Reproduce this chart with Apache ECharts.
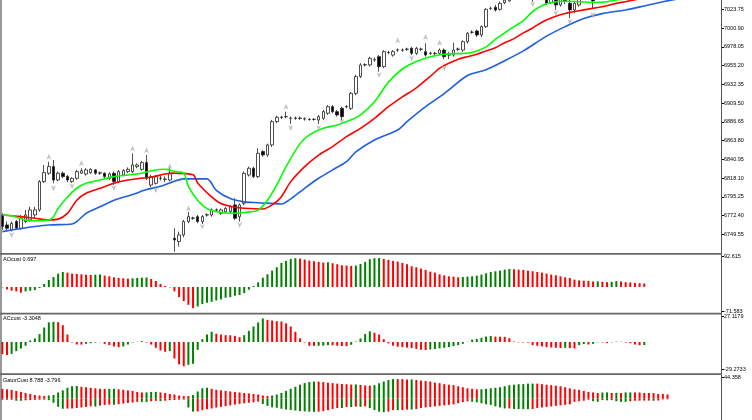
<!DOCTYPE html>
<html>
<head>
<meta charset="utf-8">
<title>Alligator + AO / AC / Gator</title>
<script src="https://cdn.jsdelivr.net/npm/echarts@6/dist/echarts.min.js"></script>
<style>html,body{margin:0;padding:0;background:#fff;}</style>
</head>
<body>
<div id="chart" style="width:752px;height:420px;"></div>
<script type="text/javascript">
// bar slots on the time axis (chart shift leaves empty room on the right)
var slotCount = 155;

// price scale of the main window
var priceMin = 6726.70, priceMax = 7035.08, priceStep = 22.85;

// candles: [open, high, low, close]
var ohlc = [
  [6773.1,6775.1,6754.8,6758.9],[6760.9,6765,6752.8,6756.8],[6754.8,6765,6753,6762.9],[6765,6767,6755,6756.8],
  [6756.8,6773,6755,6769],[6765,6779.2,6763,6773.1],[6767,6783.3,6765,6779.2],[6773.1,6783,6769,6779.2],
  [6779.2,6815.7,6777,6813.7],[6813.7,6834,6812,6824.7],[6823.9,6838,6822,6832],[6832,6840,6811.7,6815.7],
  [6815.7,6826,6814,6823.9],[6823.9,6826,6818,6819.8],[6820,6822,6813,6815.7],[6813.7,6819,6812,6817.7],
  [6817.7,6828,6816,6825.9],[6824,6830,6823,6827],[6823,6830,6821,6828],[6824.7,6830,6823,6828.7],
  [6827.9,6829,6822,6823.9],[6824,6826,6822,6824.5],[6823.9,6825,6818,6819.8],[6817.8,6825,6816,6823],
  [6823.9,6826,6809.6,6813.7],[6813.7,6828,6812,6825.9],[6821.8,6829,6820,6827.1],[6825.9,6831,6824,6828.7],
  [6825.9,6848.2,6824,6834],[6832,6836,6830,6834],[6828.7,6839,6827,6836.9],[6836.9,6846.2,6815.7,6817.8],
  [6809.6,6822,6807,6819.8],[6811.7,6822,6810,6819.8],[6817.7,6821,6815,6818],[6816.5,6820,6813,6816.8],
  [6815.7,6830,6814,6823.9],[6744.7,6756.8,6728.4,6742.6],[6740.6,6752.8,6734.5,6748.7],[6748.7,6767,6746,6765],
  [6765,6777,6763,6771],[6769,6771,6767,6769.5],[6771,6773,6763,6765],[6765,6773,6762,6771],
  [6773,6775,6771,6773.3],[6773,6781,6771,6779.2],[6779,6781,6777,6779.4],[6775.1,6781,6773,6779.2],
  [6777,6783,6775,6781],[6777.1,6785,6775,6783.3],[6785.3,6793.4,6767,6769],[6771,6787,6765,6785.3],
  [6787.3,6826,6785,6823.9],[6821.8,6832,6820,6830],[6830,6832,6818,6819.8],[6819.8,6854.3,6818,6848.2],
  [6850.3,6852,6844,6846.2],[6846.2,6860,6844,6858.4],[6858.4,6889,6856,6886.8],[6886.8,6894,6885,6892.1],
  [6892,6894,6890,6892.3],[6892.8,6899,6891,6893],[6891,6893,6884,6890.9],[6890.9,6893,6889,6891.2],
  [6891,6893,6889,6890.8],[6890,6892,6888,6890.3],[6889.6,6891,6888,6889.5],[6889.5,6891,6888,6889.7],
  [6888.8,6895,6884,6892.9],[6890.9,6901,6889,6899],[6897,6907,6895,6905.1],[6905.1,6907,6897,6899],
  [6899,6901,6893,6895],[6903,6905,6888.9,6892.9],[6905,6907,6903,6905.2],[6903,6923,6901,6921.3],
  [6921.3,6944,6919,6941.7],[6941.7,6958,6940,6955.9],[6955.9,6958,6954,6956.2],[6955.9,6966,6954,6964],
  [6962,6965,6960,6962.3],[6966,6968,6947.7,6953.8],[6953.8,6974,6952,6972.1],[6971,6973,6969,6971.2],
  [6968,6974,6966,6972.1],[6974.1,6976,6972,6974.3],[6974.1,6976,6972,6974],[6975,6977,6973,6975.2],
  [6976.2,6978,6968,6970.1],[6970.1,6978,6968,6976.2],[6975,6977,6973,6975.2],[6972.1,6982.3,6966,6968],
  [6970,6972,6968,6970.2],[6970,6972,6968,6970],[6970.1,6976,6968,6974.1],[6974.1,6976,6963,6966],
  [6968,6972,6963,6968.2],[6968,6983,6966,6974.1],[6975,6977,6973,6975.3],[6974.1,6986,6972,6984.3],
  [6984.3,6996,6982,6994.5],[6995.7,6998,6994,6995.9],[6997.3,6999,6990,6992.4],[6992.4,7004,6990,7002.6],
  [7002.6,7025,7001,7023.7],[7024.8,7027,7023,7025],[7026.1,7029,7021,7022.9],[7023.7,7033,7022,7031],
  [7031.8,7038,7030,7035],[7034,7042,7033,7039],[7039,7045,7037,7043],[7043,7048,7040,7041],
  [7041,7046,7038,7044],[7044,7049,7039,7040],[7040,7044,7033,7037],[7037,7045,7036,7043],
  [7043,7048,7041,7046],[7046,7048,7029,7031],[7032,7040,7030,7038],[7038,7040,7023,7029],
  [7029,7039,7027,7036],[7036,7041,7030,7034],[7031,7036,7013,7023],[7023,7034,7019,7031],
  [7029,7042,7027,7039],[7039,7046,7036,7043],[7043,7047,7035,7038],[7038,7042,7024,7034],
  [7036,7045,7036,7043],[7043,7049,7040,7047],[7047,7052,7043,7045],[7045,7050,7041,7049],
  [7049,7054,7046,7051],[7051,7055,7045,7047],[7047,7052,7044,7050],[7050,7056,7048,7054],
  [7054,7057,7049,7051],[7051,7055,7047,7053],[7053,7058,7050,7055]
];

// alligator lines: [bar, price]
var jaw = [[0,6752.8],[7,6758.9],[10,6760.9],[15,6762.1],[16,6765],[18,6775],[21,6783],[24,6791],[28,6798],
  [31,6804],[34,6808],[36,6812],[39,6817],[44,6817],[46,6803],[49,6793],[52,6789],[55,6788],[60,6786.5],
  [62,6792.6],[65,6805.6],[68,6817.8],[71,6828],[74,6838],[76,6850],[80,6864.5],[85,6876.7],[87,6886.8],
  [91,6905],[95,6921],[100,6943],[104,6950],[108,6961],[112,6973],[117,6991],[121,7002.6],[125,7012.5],
  [129,7018.5],[134,7022.9],[138,7027.8],[142,7033],[145,7036]];
var teeth = [[0,6773],[4,6771],[7,6769],[10,6767],[12,6768],[14,6775],[16,6791],[18,6799.5],[21,6805.6],
  [24,6811.7],[27,6815.7],[30,6818],[32,6819],[35,6823],[37,6824],[41,6822],[42,6812],[45,6795],[47,6787],
  [50,6782.4],[52,6781.2],[56,6780.4],[58,6785.3],[60,6795.4],[62,6813.7],[65,6832],[68,6846],[71,6856.4],
  [74,6868.5],[77,6878.7],[80,6890.9],[83,6905],[86,6917],[89,6928],[92,6942],[94,6952],[96,6958],[98,6963],
  [100,6966],[102,6969],[104,6973],[106,6977],[108,6983],[110,6988],[112,6995],[114,7001],[116,7008],
  [118,7013],[120,7017],[122,7020],[124,7022],[126,7024],[128,7026],[130,7028],[132,7031],[134,7033],
  [136,7035.5],[139,7038],[143,7041]];
var lips = [[0,6773],[2,6772],[5,6767],[7,6766],[10,6767],[11,6771],[12,6781],[14,6795],[16,6805.6],
  [18,6811.7],[21,6815.7],[24,6819.8],[27,6821.8],[30,6824],[32,6827],[35,6828.7],[37,6826],[39,6824],
  [40,6808],[42,6791],[44,6781],[47,6776],[50,6775],[52,6776],[55,6779],[57,6791],[59,6809.6],[61,6832],
  [64,6860],[66,6870.6],[69,6878.7],[72,6882.8],[75,6889],[77,6895],[80,6911],[83,6935],[86,6951],
  [89,6960],[92,6966],[95,6969],[99,6970],[101,6971],[104,6978],[106,6987],[109,6999],[112,7010],
  [114,7021],[116,7028],[118,7032],[121,7033.5],[124,7033],[127,7032],[130,7033],[132,7035],[135,7037],
  [138,7040],[141,7042]];

// fractal arrows: [bar, price where the arrow sits]
var fractalUp = [[10,6844],[17,6836],[28,6854],[31,6852],[36,6832],[40,6781],[61,6905],[85,6986],[91,6990],[94,6983]];
var fractalDown = [[2,6748.7],[11,6805.6],[15,6808],[24,6806],[33,6803.5],[43,6758.9],[51,6760.9],[62,6879],
  [68,6879],[73,6887],[81,6943.7],[88,6964],[95,6952],[114,7030],[119,7019],[122,7008.7],[127,7016.8]];

// oscillators
var ao = [-1,-7,-11,-13,-17,-13,-11,-9,-3,9,
  21,30,40,45,43,40,39,38,37,36,
  37,37.5,34,32,29,27,26,25,26,27,
  28,28.5,24,18,9,3,-1,-13,-30,-42,
  -53,-63,-58,-51,-47,-44,-40,-37,-32,-30,
  -26,-24,-18,-8,3,14,28,38,49,59,
  72,78,84,86,85,82,79,77,75,73,
  74,71,68,65,64,63,64,69,75,83,
  86,86.5,84,81,78,76,72,68,62,59,
  55,51,46,43,38,35,32,31,29,30,
  31,32,34,37,41,45,47,49,52,54,
  53,52,51,49,47,45,43,40,37,35,
  32,29,27,22,20,19,18.5,16.6,17,15.6,
  14.5,15.6,17.7,16.6,14.5,13.5,12.5,11.4,10.4];
var ac = [-13,-14,-12.7,-9.8,-7,-4,1.6,3.8,8.4,15.5,
  21,21.6,21.3,18,8,-0.5,-2.7,-2.8,-2,-1.2,
  -0.5,-0.2,-2,-3.4,-4.8,-5.5,-4.8,-2.7,-0.5,0.2,
  0.9,-0.5,-2.7,-6.2,-9,-10.5,-9.8,-17.7,-24,-26,
  -24.5,-23.4,-8.4,3,8,11,8.8,8,7.3,7.2,
  6.6,5.2,7.3,12,16.6,21,25.2,23.8,23,22.3,
  22,20,16.6,10.9,3.8,-0.5,-4,-4.1,-4,-3.9,
  -3.4,-3.6,-4,-4.3,-4.5,-3,0.5,3.8,8.5,11.5,
  10,8,3,-1.5,-4,-5,-5.5,-6,-6.5,-7.3,
  -8.3,-8.6,-8,-7.5,-6.8,-6.2,-5.5,-4.4,-3.4,-2,
  0.2,2.5,3.3,4.5,5.9,6.5,5.8,5.7,5.5,4.1,
  0.5,-0.3,-0.5,-0.6,-3.4,-4.1,-4.8,-5.5,-5.9,-6.2,
  -6.5,-6.2,-6.5,-7,-3.4,-2.2,-2.7,-2,-0.3,-0.5,
  -1.2,-0.4,0.4,0.3,-0.6,-1.2,-2.7,-3.5,-3.3];
var gatorUp = [20.4,19.4,18.3,16,14,11.8,9.7,7.5,6.5,5.4,
  6.5,7.5,12.9,17.2,22.6,25.8,26.3,24.7,23.7,22.6,
  21.5,20.4,20.3,20.4,20.5,19.4,18.3,17.2,16.1,14,
  12.9,13,14,14.1,12.9,11.8,9.7,8.6,6.5,5.4,
  5.3,7.5,15,21.5,22.6,20.4,18.3,17.2,16.1,15,
  14,12.9,11.8,10.8,9.7,8.6,6.5,5.4,6.5,8.6,
  11.8,16.1,20.4,24.7,29,32.3,34.4,35.5,35.4,34.4,
  33.3,32.3,31.2,30.5,30,29.2,29.5,28.5,27.5,27,
  28,32,35.5,38.7,40.8,40.7,40.6,39.8,40,38.7,
  37.6,36.6,35.5,33.3,32.2,30.1,29,28,25.8,23.7,
  21.5,20.4,19.4,19.5,20.4,21.5,22.6,23.7,25.8,28,
  29,30.1,30.2,31.2,31.3,31.2,30.1,29,28,26.9,
  25.8,23.7,21.5,19.4,18.3,16.1,14,12.9,11.8,12.9,
  13,11.8,12,11.8,12.9,13,12.9,12.8,11.8,11.7,
  11.6,9.7,9.6,8.8];
var gatorDown = [-2.2,-2.4,-2.2,-4.3,-4.4,-3.5,-3,-2.5,-2.2,-2,
  -3.2,-8.6,-17,-21,-20.5,-20.4,-19.4,-18.3,-17.2,-16,
  -16.5,-14.5,-13,-12.4,-12.6,-11.3,-10.2,-9.1,-8,-6.5,
  -6.8,-7,-5.4,-4.5,-5,-4.3,-3.2,-2.7,-2.2,-2,
  -18.3,-27,-26.5,-24,-22,-20.4,-18.5,-17,-15.6,-14,
  -12.4,-10.8,-9.7,-8.6,-7.5,-6,-11,-15,-18,-19,
  -21,-22.6,-23.6,-24.7,-25.8,-26.5,-27,-27.5,-27,-26,
  -24,-21.5,-19.4,-19.5,-17.2,-17.3,-16.5,-17,-16.1,-19.4,
  -23.7,-27,-28,-27,-23.7,-24,-23.7,-22.6,-22.7,-21.5,
  -19.4,-18.3,-17.2,-16.1,-15,-14,-12.9,-11.8,-9.7,-7,
  -5.4,-6.5,-7.5,-9.7,-11.8,-12.9,-16.1,-18.3,-20.4,-20.3,
  -21.5,-21.6,-21.7,-21.8,-21.5,-19.4,-18.3,-17.2,-16.1,-15,
  -14,-12.9,-11.8,-6.5,-5.4,-4.3,-2.2,-5.4,-6.5,-3,
  -3.5,-3,-5.4,-6.5,-6.6,-5.4,-4.3,-4.2,-4.1,-4,
  -4.3,-3.8,-1.5,-1.2];

// sub-window scales as shown on the right
var aoRange = [-71.583, 92.615];
var acRange = [-29.2733, 27.1179];
var gatorRange = [-44.358, 44.358];

var categories = [];
for (var k = 0; k < slotCount; k++) categories.push(String(k));

var GREEN = '#008000', RED = '#ff0000';
// colour each bar like the terminal does: green when it grew vs previous bar
function colored(arr, byAbs) {
  return arr.map(function (v, i) {
    var a = byAbs ? Math.abs(v) : v;
    var b = i ? (byAbs ? Math.abs(arr[i - 1]) : arr[i - 1]) : a;
    return { value: v, itemStyle: { color: a > b ? GREEN : RED } };
  });
}

var labelFont = { fontSize: 5.5, fontFamily: 'Liberation Sans', color: '#000' };

function xAx(idx) {
  return { type: 'category', gridIndex: idx, data: categories, show: false, boundaryGap: true };
}
function yAx(idx, min, max, interval, digits, hideMin) {
  return {
    type: 'value', gridIndex: idx, position: 'right', min: min, max: max, interval: interval,
    splitLine: { show: false }, axisLine: { show: false },
    axisTick: { show: true, length: 3, lineStyle: { color: '#000', width: 1 } },
    axisLabel: Object.assign({
      margin: 3, showMinLabel: !hideMin, showMaxLabel: idx !== 0,
      formatter: function (v) { return v.toFixed(digits); }
    }, labelFont)
  };
}

var myChart = echarts.init(document.getElementById('chart'));
myChart.setOption({
  animation: false,
  backgroundColor: '#fff',
  grid: [
    { left: 0, right: 31, top: 0, height: 253 },
    { left: 0, right: 31, top: 256, height: 55 },
    { left: 0, right: 31, top: 316.7, height: 52.6 },
    { left: 0, right: 31, top: 377.3, height: 53.4 }
  ],
  xAxis: [xAx(0), xAx(1), xAx(2), xAx(3)],
  yAxis: [
    yAx(0, priceMin, priceMax, priceStep, 2, true),
    yAx(1, aoRange[0], aoRange[1], aoRange[1] - aoRange[0], 3, false),
    yAx(2, acRange[0], acRange[1], acRange[1] - acRange[0], 4, false),
    yAx(3, gatorRange[0], gatorRange[1], gatorRange[1] - gatorRange[0], 3, true)
  ],
  graphic: [
    { type: 'line', shape: { x1: 1, y1: 0, x2: 1, y2: 420 }, style: { stroke: '#555', lineWidth: 1.2 }, z: 100 },
    { type: 'line', shape: { x1: 721.5, y1: 0, x2: 721.5, y2: 420 }, style: { stroke: '#555', lineWidth: 1 }, z: 100 },
    { type: 'rect', shape: { x: 0, y: 253, width: 722, height: 1.8 }, style: { fill: '#666' }, z: 100 },
    { type: 'rect', shape: { x: 0, y: 312.7, width: 722, height: 1.8 }, style: { fill: '#666' }, z: 100 },
    { type: 'rect', shape: { x: 0, y: 373.2, width: 722, height: 1.8 }, style: { fill: '#666' }, z: 100 },
    { type: 'text', left: 3, top: 256.3, z: 100, style: { text: 'AOcust 0.697', fontSize: 5.5, fontFamily: 'Liberation Sans', fill: '#000' } },
    { type: 'text', left: 3, top: 315.3, z: 100, style: { text: 'ACcust -3.3048', fontSize: 5.5, fontFamily: 'Liberation Sans', fill: '#000' } },
    { type: 'text', left: 3, top: 377, z: 100, style: { text: 'GatorCust 8.788 -3.796', fontSize: 5.5, fontFamily: 'Liberation Sans', fill: '#000' } }
  ],
  series: [
    {
      type: 'candlestick', xAxisIndex: 0, yAxisIndex: 0, barWidth: 3, clip: true,
      data: ohlc.map(function (r) { return [r[0], r[3], r[2], r[1]]; }),
      itemStyle: { color: '#fff', color0: '#000', borderColor: '#222', borderColor0: '#222', borderWidth: 0.8 }
    },
    {
      type: 'line', xAxisIndex: 0, yAxisIndex: 0, data: jaw, showSymbol: false, smooth: 0.3, clip: true, z: 3,
      lineStyle: { color: '#1f5fe0', width: 1.6 }
    },
    {
      type: 'line', xAxisIndex: 0, yAxisIndex: 0, data: teeth, showSymbol: false, smooth: 0.3, clip: true, z: 3,
      lineStyle: { color: '#ff0000', width: 1.6 }
    },
    {
      type: 'line', xAxisIndex: 0, yAxisIndex: 0, data: lips, showSymbol: false, smooth: 0.3, clip: true, z: 3,
      lineStyle: { color: '#00ff00', width: 1.6 }
    },
    {
      type: 'scatter', xAxisIndex: 0, yAxisIndex: 0, data: fractalUp, z: 4,
      symbol: 'path://M5,0 L10,10 L5,7 L0,10 Z', symbolSize: [5, 6],
      itemStyle: { color: '#b0b0b0' }
    },
    {
      type: 'scatter', xAxisIndex: 0, yAxisIndex: 0, data: fractalDown, z: 4,
      symbol: 'path://M0,0 L5,3 L10,0 L5,10 Z', symbolSize: [5, 6],
      itemStyle: { color: '#b0b0b0' }
    },
    { type: 'bar', xAxisIndex: 1, yAxisIndex: 1, barWidth: 2, data: colored(ao, false) },
    { type: 'bar', xAxisIndex: 2, yAxisIndex: 2, barWidth: 2, data: colored(ac, false) },
    { type: 'bar', xAxisIndex: 3, yAxisIndex: 3, barWidth: 2, barGap: '-100%', data: colored(gatorUp, true) },
    { type: 'bar', xAxisIndex: 3, yAxisIndex: 3, barWidth: 2, barGap: '-100%', data: colored(gatorDown, true) }
  ]
});
</script>
</body>
</html>
